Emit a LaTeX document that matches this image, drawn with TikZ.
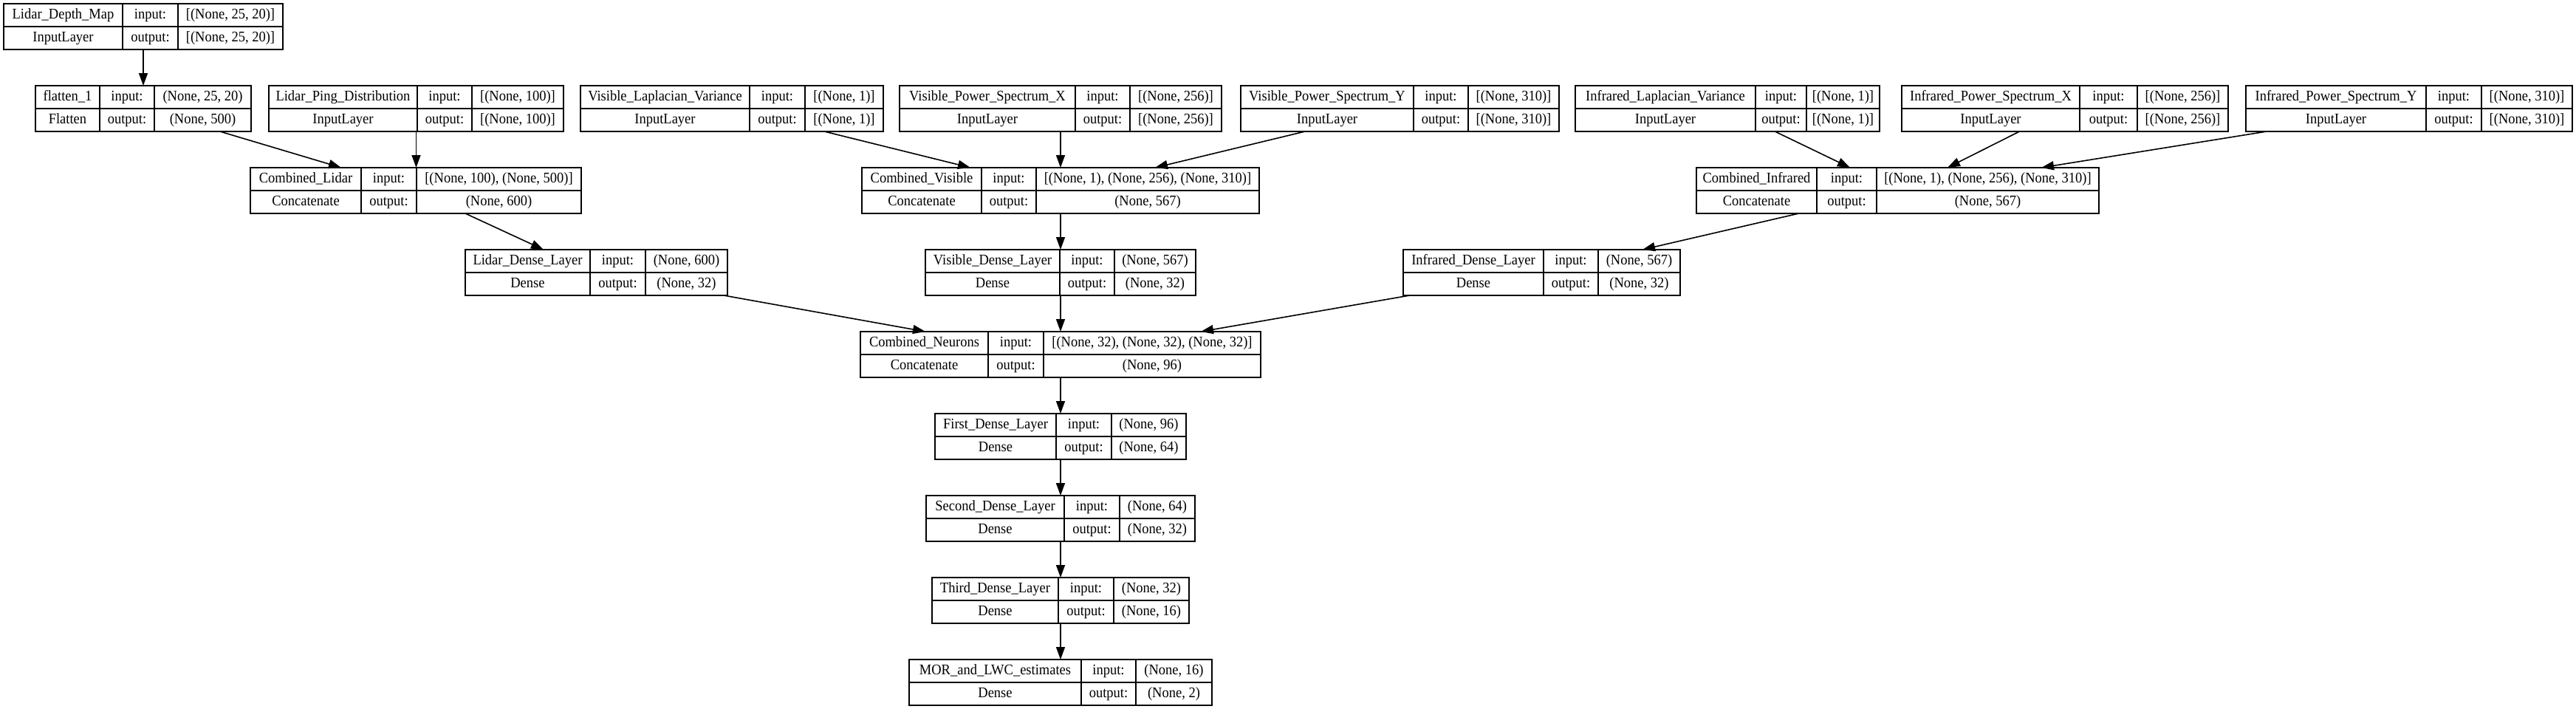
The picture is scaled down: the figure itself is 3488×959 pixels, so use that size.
\documentclass[tikz,border=0pt]{standalone}
\usepackage{graphicx}
\usepackage{fontspec}
\setmainfont{Liberation Serif}
\usetikzlibrary{arrows.meta}
\tikzset{
 box/.style={draw, line width=1.9pt, rectangle, inner sep=0pt, outer sep=0pt},
 cell/.style={line width=1.9pt},
 txt/.style={inner sep=0pt, font=\fontsize{20}{24}\selectfont, anchor=center, text height=14pt, text depth=4.5pt},
 arr/.style={line width=1.6pt, -{Triangle[length=17pt,width=12pt]}},
}
\newcommand\sx[1]{\scalebox{0.925}[1]{#1}}
\newcommand\layer[6]{%
 \node[box, minimum width={(#5)-(#2)}, minimum height=62] (#1) at ({((#2)+(#5))/2},{(#6)+31}) {};
 \draw[cell] (#3,#6) -- (#3,{#6+62});
 \draw[cell] (#4,#6) -- (#4,{#6+62});
 \draw[cell] (#2,{#6+31}) -- (#5,{#6+31});
 \coordinate (#1-nt) at ({(#2+#3)/2},{#6+15.5});
 \coordinate (#1-nb) at ({(#2+#3)/2},{#6+46.5});
 \coordinate (#1-it) at ({(#3+#4)/2},{#6+15.5});
 \coordinate (#1-ib) at ({(#3+#4)/2},{#6+46.5});
 \coordinate (#1-vt) at ({(#4+#5)/2},{#6+15.5});
 \coordinate (#1-vb) at ({(#4+#5)/2},{#6+46.5});
}
\newcommand\layertext[5]{%
 \node[txt] (#1-t1) at (#1-nt) {\sx{#2}};
 \node[txt] (#1-t2) at (#1-nb) {\sx{#3}};
 \node[txt] (#1-t3) at (#1-it) {\sx{input:}};
 \node[txt] (#1-t4) at (#1-ib) {\sx{output:}};
 \node[txt] (#1-t5) at (#1-vt) {\sx{#4}};
 \node[txt] (#1-t6) at (#1-vb) {\sx{#5}};
}
\begin{document}
\begin{tikzpicture}[x=1pt,y=-1pt]
\useasboundingbox (0,0) rectangle (3488,959);
% row 1
\layer{ldm}{5}{166}{241}{383}{5}
\layertext{ldm}{Lidar\_Depth\_Map}{InputLayer}{[(None, 25, 20)]}{[(None, 25, 20)]}
% row 2
\layer{flat}{48}{135}{209}{340}{116}
\layertext{flat}{flatten\_1}{Flatten}{(None, 25, 20)}{(None, 500)}
\layer{lpd}{364}{565}{639}{763}{116}
\layertext{lpd}{Lidar\_Ping\_Distribution}{InputLayer}{[(None, 100)]}{[(None, 100)]}
\layer{vlv}{786}{1015}{1090}{1196}{116}
\layertext{vlv}{Visible\_Laplacian\_Variance}{InputLayer}{[(None, 1)]}{[(None, 1)]}
\layer{vpsx}{1218}{1456}{1530}{1654}{116}
\layertext{vpsx}{Visible\_Power\_Spectrum\_X}{InputLayer}{[(None, 256)]}{[(None, 256)]}
\layer{vpsy}{1680}{1914}{1988}{2111}{116}
\layertext{vpsy}{Visible\_Power\_Spectrum\_Y}{InputLayer}{[(None, 310)]}{[(None, 310)]}
\layer{ilv}{2133}{2377}{2446}{2545}{116}
\layertext{ilv}{Infrared\_Laplacian\_Variance}{InputLayer}{[(None, 1)]}{[(None, 1)]}
\layer{ipsx}{2575}{2816}{2894}{3017}{116}
\layertext{ipsx}{Infrared\_Power\_Spectrum\_X}{InputLayer}{[(None, 256)]}{[(None, 256)]}
\layer{ipsy}{3041}{3285}{3360}{3483}{116}
\layertext{ipsy}{Infrared\_Power\_Spectrum\_Y}{InputLayer}{[(None, 310)]}{[(None, 310)]}
% row 3
\layer{cl}{339}{489}{564}{787}{227}
\layertext{cl}{Combined\_Lidar}{Concatenate}{[(None, 100), (None, 500)]}{(None, 600)}
\layer{cv}{1167}{1329}{1403}{1705}{227}
\layertext{cv}{Combined\_Visible}{Concatenate}{[(None, 1), (None, 256), (None, 310)]}{(None, 567)}
\layer{ci}{2297}{2460}{2541}{2842}{227}
\layertext{ci}{Combined\_Infrared}{Concatenate}{[(None, 1), (None, 256), (None, 310)]}{(None, 567)}
% row 4
\layer{ldl}{630}{799}{874}{985}{338}
\layertext{ldl}{Lidar\_Dense\_Layer}{Dense}{(None, 600)}{(None, 32)}
\layer{vdl}{1253}{1435}{1509}{1619}{338}
\layertext{vdl}{Visible\_Dense\_Layer}{Dense}{(None, 567)}{(None, 32)}
\layer{idl}{1900}{2090}{2164}{2275}{338}
\layertext{idl}{Infrared\_Dense\_Layer}{Dense}{(None, 567)}{(None, 32)}
% rows 5-9
\layer{cn}{1165}{1338}{1413}{1707}{449}
\layertext{cn}{Combined\_Neurons}{Concatenate}{[(None, 32), (None, 32), (None, 32)]}{(None, 96)}
\layer{fdl}{1266}{1430}{1505}{1606}{560}
\layertext{fdl}{First\_Dense\_Layer}{Dense}{(None, 96)}{(None, 64)}
\layer{sdl}{1254}{1441}{1516}{1618}{671}
\layertext{sdl}{Second\_Dense\_Layer}{Dense}{(None, 64)}{(None, 32)}
\layer{tdl}{1262}{1433}{1508}{1610}{782}
\layertext{tdl}{Third\_Dense\_Layer}{Dense}{(None, 32)}{(None, 16)}
\layer{mor}{1231}{1464}{1538}{1641}{893}
\layertext{mor}{MOR\_and\_LWC\_estimates}{Dense}{(None, 16)}{(None, 2)}
% head points
\coordinate (cl-h1) at (462,227);
\coordinate (cl-h2) at (563.5,227);
\coordinate (cv-h1) at (1314,227);
\coordinate (cv-h3) at (1564,227);
\coordinate (ci-h1) at (2505,227);
\coordinate (ci-h2) at (2637,227);
\coordinate (ci-h3) at (2764,227);
\coordinate (ldl-h) at (736,338);
\coordinate (idl-h) at (2224,338);
\coordinate (cn-h1) at (1253,449);
\coordinate (cn-h3) at (1626,449);
% edges
\draw[arr] (ldm) -- (flat);
\draw[arr] (flat) -- (cl-h1);
\draw[arr] (lpd) -- (cl-h2);
\draw[arr] (vlv) -- (cv-h1);
\draw[arr] (vpsx) -- (cv);
\draw[arr] (vpsy) -- (cv-h3);
\draw[arr] (ilv) -- (ci-h1);
\draw[arr] (ipsx) -- (ci-h2);
\draw[arr] (ipsy) -- (ci-h3);
\draw[arr] (cl) -- (ldl-h);
\draw[arr] (cv) -- (vdl);
\draw[arr] (ci) -- (idl-h);
\draw[arr] (ldl) -- (cn-h1);
\draw[arr] (vdl) -- (cn);
\draw[arr] (idl) -- (cn-h3);
\draw[arr] (cn) -- (fdl);
\draw[arr] (fdl) -- (sdl);
\draw[arr] (sdl) -- (tdl);
\draw[arr] (tdl) -- (mor);
\end{tikzpicture}
\end{document}
